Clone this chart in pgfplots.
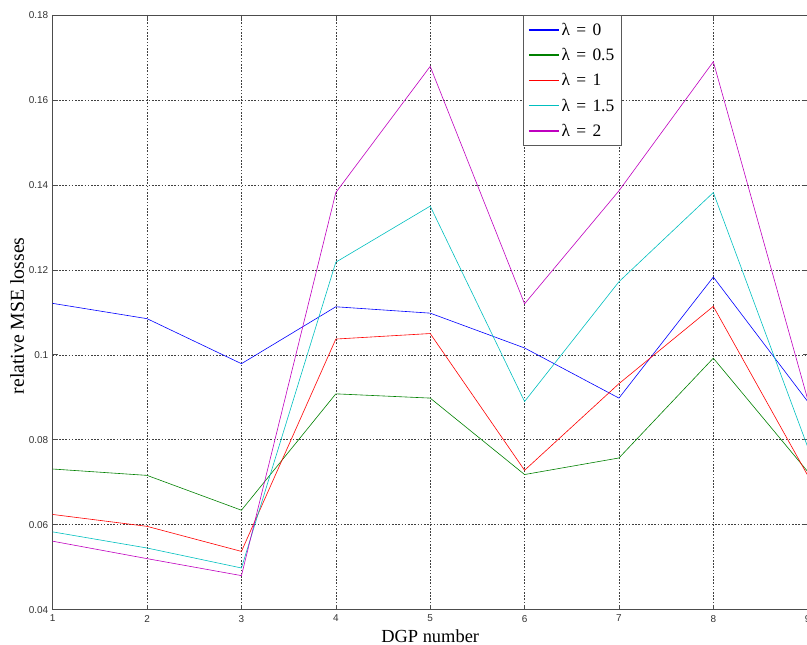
\documentclass[border=0pt]{standalone}
\usepackage{fontspec}
\setmainfont{Liberation Serif}
\setsansfont{Liberation Sans}
\usepackage{pgfplots}
\pgfplotsset{compat=1.18}
\definecolor{mblue}{rgb}{0,0,1}
\definecolor{mgreen}{rgb}{0,0.5,0}
\definecolor{mred}{rgb}{1,0,0}
\definecolor{mcyan}{rgb}{0,0.75,0.75}
\definecolor{mmag}{rgb}{0.75,0,0.75}
\newcommand{\lam}[1]{λ\hspace{0.36em}=\hspace{0.36em}#1}
\begin{document}
\begin{tikzpicture}
\begin{axis}[
  at={(0,0)}, anchor=south west,
  scale only axis, width=755bp, height=594.6bp,
  xmin=1, xmax=9, ymin=0.04, ymax=0.18,
  xtick={1,...,9},
  ytick={0.04,0.06,0.08,0.1,0.12,0.14,0.16,0.18},
  tick align=inside,
  major tick length=5bp,
  axis line style={draw=black!70, line width=0.8bp},
  tick style={black!70, line width=0.6bp},
  grid=major,
  major grid style={black!75, line width=0.5bp, dash pattern=on 1.6bp off 1.6bp},
  /pgf/number format/assume math mode=true,
  ticklabel style={font=\fontsize{10}{10}\selectfont\sffamily, text=black!80},
  yticklabel style={/pgf/number format/fixed, /pgf/number format/precision=2, xshift=-1bp},
  xticklabel style={yshift=-2bp},
  xlabel={DGP number},
  ylabel={relative MSE losses},
  xlabel style={font=\fontsize{18.5}{18.5}\selectfont, yshift=-1bp},
  ylabel style={font=\fontsize{19.8}{19.8}\selectfont, yshift=-2bp, xshift=-3.5bp},
  legend cell align=left,
  legend style={at={(axis description cs:0.6225,1)}, anchor=north west,
    draw=black!65, line width=1bp, fill=white,
    font=\fontsize{17.5}{19}\selectfont, row sep=7.5bp, inner xsep=5bp, inner ysep=5.5bp},
  legend image code/.code={\draw[#1, line width=1.5bp] plot coordinates {(0bp,0bp) (15bp,0bp) (30bp,0bp)};},
  every axis plot/.append style={line width=0.6bp},
]
\addplot[draw=mblue] coordinates {(1,0.1121) (2,0.1085) (3,0.0979) (4,0.1113) (5,0.1098) (6,0.1016) (7,0.0898) (8,0.1183) (9,0.0890)};
\addlegendentry{\lam{0}}
\addplot[draw=mgreen] coordinates {(1,0.0731) (2,0.0716) (3,0.0634) (4,0.0908) (5,0.0898) (6,0.0718) (7,0.0757) (8,0.0992) (9,0.0725)};
\addlegendentry{\lam{0.5}}
\addplot[draw=mred] coordinates {(1,0.0624) (2,0.0596) (3,0.0537) (4,0.1037) (5,0.1050) (6,0.0728) (7,0.0932) (8,0.1114) (9,0.0716)};
\addlegendentry{\lam{1}}
\addplot[draw=mcyan] coordinates {(1,0.0583) (2,0.0545) (3,0.0498) (4,0.1218) (5,0.1350) (6,0.0890) (7,0.1172) (8,0.1382) (9,0.0783)};
\addlegendentry{\lam{1.5}}
\addplot[draw=mmag] coordinates {(1,0.0561) (2,0.0520) (3,0.0480) (4,0.1382) (5,0.1679) (6,0.1120) (7,0.1386) (8,0.1690) (9,0.0895)};
\addlegendentry{\lam{2}}
\end{axis}
\pgfresetboundingbox
\useasboundingbox (-52.7bp,-35.4bp) rectangle (754.3bp,609.6bp);
\end{tikzpicture}
\end{document}
